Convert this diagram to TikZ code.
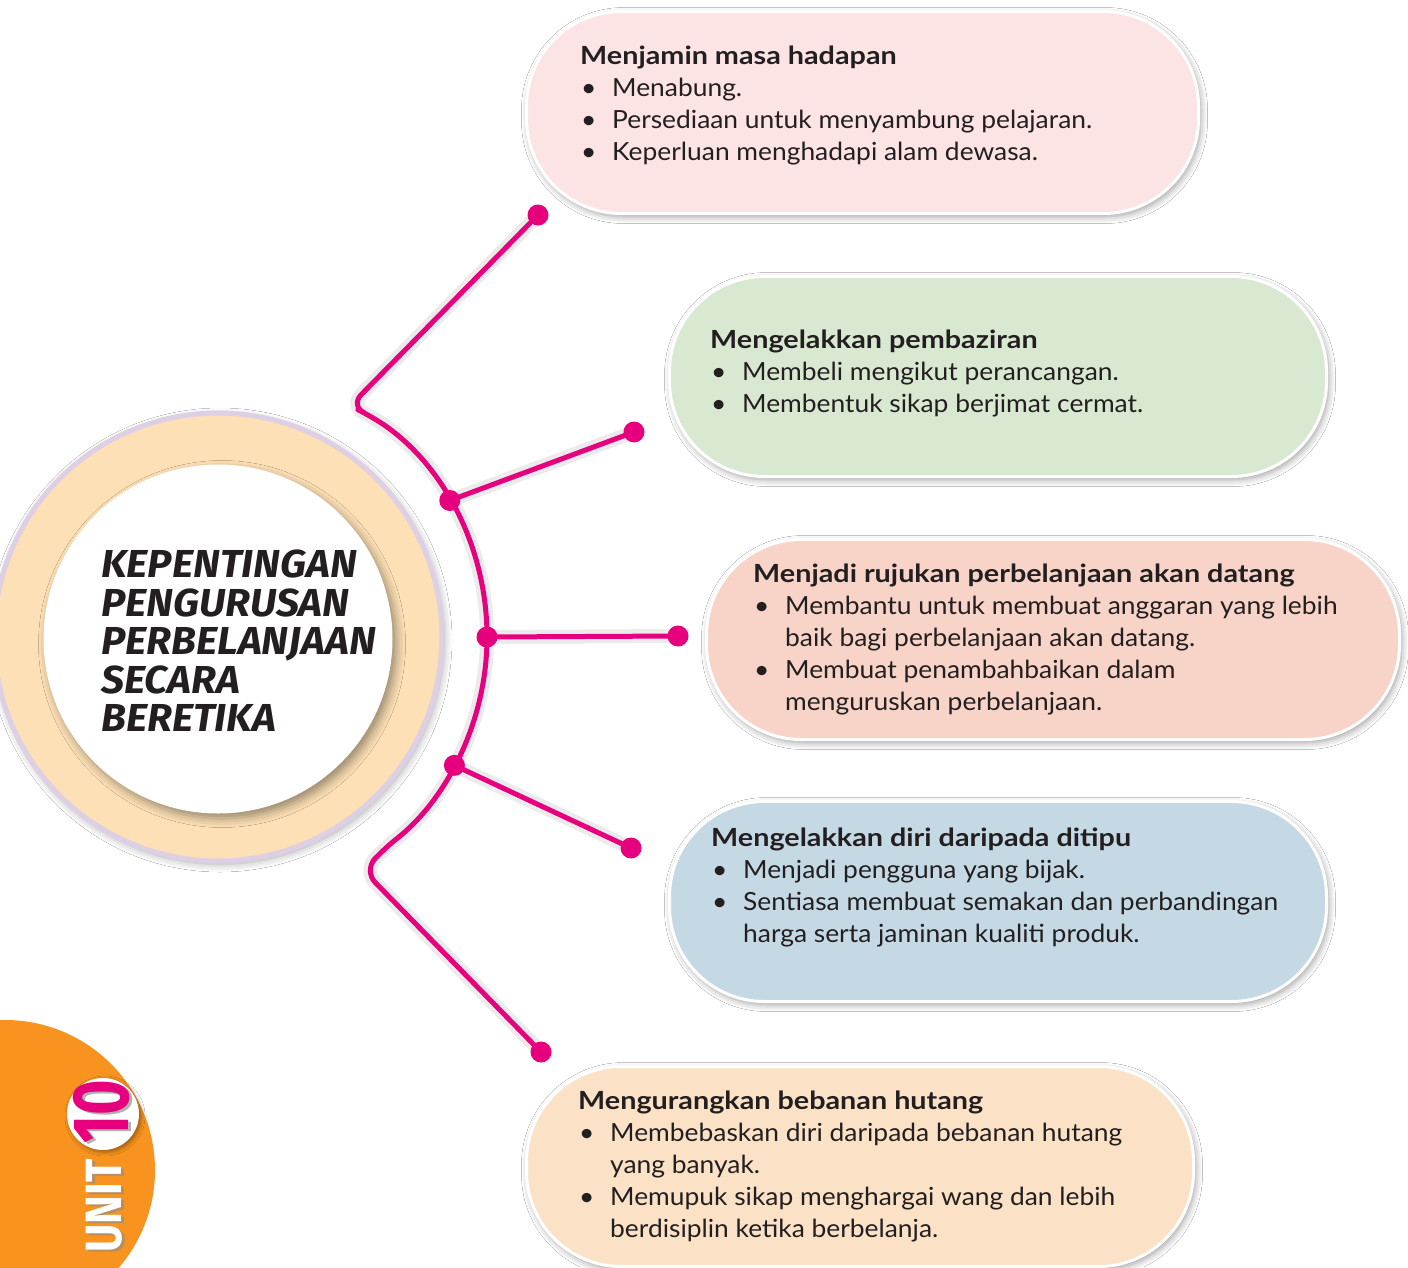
\documentclass[tikz,border=0pt]{standalone}
\usepackage{fontspec}
\setmainfont[FakeStretch=1.055]{Lato}
\newfontfamily\headfont[FakeStretch=1.15]{Lato}
\newfontfamily\titlefont[FakeStretch=1.05]{Fira Sans}
\newfontfamily\unitfont{Fira Sans}
\usetikzlibrary{shadows.blur,calc}
\definecolor{mag}{HTML}{E6007E}
\definecolor{ink}{HTML}{231F20}
\definecolor{cA}{HTML}{FBE4E3}
\definecolor{cB}{HTML}{D9E9D1}
\definecolor{cC}{HTML}{F8D4C8}
\definecolor{cD}{HTML}{C5D9E5}
\definecolor{cE}{HTML}{FBE2C6}
\definecolor{ringc}{HTML}{FDE0B5}
\definecolor{lav}{HTML}{DDCFE4}
\definecolor{orng}{HTML}{F7931E}
\tikzset{
  boxsh/.style={draw=white, line width=3pt, rounded corners=95pt, inner sep=0pt, anchor=north west,
    blur shadow={shadow xshift=2pt, shadow yshift=-3pt, shadow blur radius=7pt, shadow opacity=40}},
  txtblk/.style={anchor=north west, inner sep=0pt, align=left, text=ink, font=\fontsize{25}{32}\selectfont},
  conn/.style={draw=mag, line width=5pt, line cap=round, line join=round,
    preaction={draw=black, opacity=0.08, line width=14pt}},
  dotn/.style={circle, fill=mag, inner sep=0pt, minimum size=21pt},
}
\newcommand\hd[1]{{\headfont\bfseries #1}}
\newcommand\bl{\hspace*{1pt}\makebox[31pt][l]{•}}
\newcommand\ind{\hspace*{32pt}}
\begin{document}
\begin{tikzpicture}[x=1pt,y=-1pt]
\useasboundingbox (0,0) rectangle (1408,1267);
\fill[white] (0,0) rectangle (1408,1267);

% UNIT badge
\begin{scope}
\clip (0,0) rectangle (1408,1267);
\fill[orng] (5,1170) circle[radius=150];
\end{scope}
\node[rotate=90, inner sep=0pt, text=black!45, opacity=0.6, font=\unitfont\bfseries\fontsize{51}{51}\selectfont] (unitsh) at (107,1208) {\scalebox{0.85}[1]{UNIT}};
\node[rotate=90, inner sep=0pt, text=white, font=\unitfont\bfseries\fontsize{51}{51}\selectfont] (unit) at (104.5,1206) {\scalebox{0.85}[1]{UNIT}};
\node[circle, fill=white, minimum size=72pt, inner sep=0pt,
  blur shadow={shadow xshift=2pt, shadow yshift=-2pt, shadow blur radius=4pt, shadow opacity=40}] (unitc) at (103,1114) {};
\node[rotate=90, inner sep=0pt, text=black!50, opacity=0.6, font=\unitfont\bfseries\fontsize{80}{80}\selectfont] (tensh) at (105,1114) {\scalebox{0.76}[1]{10}};
\node[rotate=90, inner sep=0pt, text=mag, font=\unitfont\bfseries\fontsize{80}{80}\selectfont] (ten) at (102,1112) {\scalebox{0.76}[1]{10}};

% central circle
\node[circle, fill=ringc, draw=lav, line width=5pt, minimum size=448pt, inner sep=0pt,
  blur shadow={shadow xshift=2pt, shadow yshift=-3pt, shadow blur radius=8pt, shadow opacity=35}] (ring) at (218,637) {};
\node[circle, fill=white, minimum size=349pt, inner sep=0pt,
  blur shadow={shadow xshift=4pt, shadow yshift=-5pt, shadow blur radius=9pt, shadow opacity=40}] (core) at (218,639) {};
\node[anchor=north west, inner sep=0pt, align=left, text=ink,
  font=\titlefont\bfseries\itshape\fontsize{39}{38.5}\selectfont] (title) at (101,550)
  {KEPENTINGAN\\PENGURUSAN\\PERBELANJAAN\\SECARA\\BERETIKA};

% boxes
\node[boxsh, fill=cA, minimum width=672pt, minimum height=202pt] (b1) at (525,10) {};
\node[boxsh, fill=cB, minimum width=657pt, minimum height=200pt] (b2) at (668,275) {};
\node[boxsh, fill=cC, minimum width=693pt, minimum height=200pt] (b3) at (705,538) {};
\node[boxsh, fill=cD, minimum width=657pt, minimum height=200pt] (b4) at (668,800) {};
\node[boxsh, fill=cE, minimum width=667pt, minimum height=200pt] (b5) at (525,1065) {};

\node[txtblk] (t1) at (580,46) {\hd{Menjamin masa hadapan}\\
\bl Menabung.\\
\bl Persediaan untuk menyambung pelajaran.\\
\bl Keperluan menghadapi alam dewasa.};
\node[txtblk] (t2) at (710,330) {\hd{Mengelakkan pembaziran}\\
\bl Membeli mengikut perancangan.\\
\bl Membentuk sikap berjimat cermat.};
\node[txtblk] (t3) at (753,564) {\hd{Menjadi rujukan perbelanjaan akan datang}\\
\bl Membantu untuk membuat anggaran yang lebih\\
\ind baik bagi perbelanjaan akan datang.\\
\bl Membuat penambahbaikan dalam\\
\ind menguruskan perbelanjaan.};
\node[txtblk] (t4) at (711,828) {\hd{Mengelakkan diri daripada ditipu}\\
\bl Menjadi pengguna yang bijak.\\
\bl Sentiasa membuat semakan dan perbandingan\\
\ind harga serta jaminan kualiti produk.};
\node[txtblk] (t5) at (578,1091) {\hd{Mengurangkan bebanan hutang}\\
\bl Membebaskan diri daripada bebanan hutang\\
\ind yang banyak.\\
\bl Memupuk sikap menghargai wang dan lebih\\
\ind berdisiplin ketika berbelanja.};

% connectors
\coordinate (c) at (218,637);
\coordinate (ja) at ($(c)+(-30.5:269)$);
\coordinate (jb) at ($(c)+(0:269)$);
\coordinate (jc) at ($(c)+(28.5:269)$);
\coordinate (as) at ($(c)+(-55:269)$);
\coordinate (k1) at (350,406);
\coordinate (k2) at (364,871);
\coordinate (ta) at (538,215);
\coordinate (tb) at (634,432);
\coordinate (tc) at (678,636);
\coordinate (td) at (631,848);
\coordinate (te) at (541,1052);

\draw[conn, rounded corners=16pt] (ta) -- (k1) -- (as) arc[start angle=-55, end angle=52, radius=269] -- (k2) -- (te);
\draw[conn] (ja) -- (tb);
\draw[conn] (jb) -- (tc);
\draw[conn] (jc) -- (td);

\foreach \p in {ta,tb,tc,td,te,ja,jb,jc}
  \node[dotn] (dot-\p) at (\p) {};
\end{tikzpicture}
\end{document}
